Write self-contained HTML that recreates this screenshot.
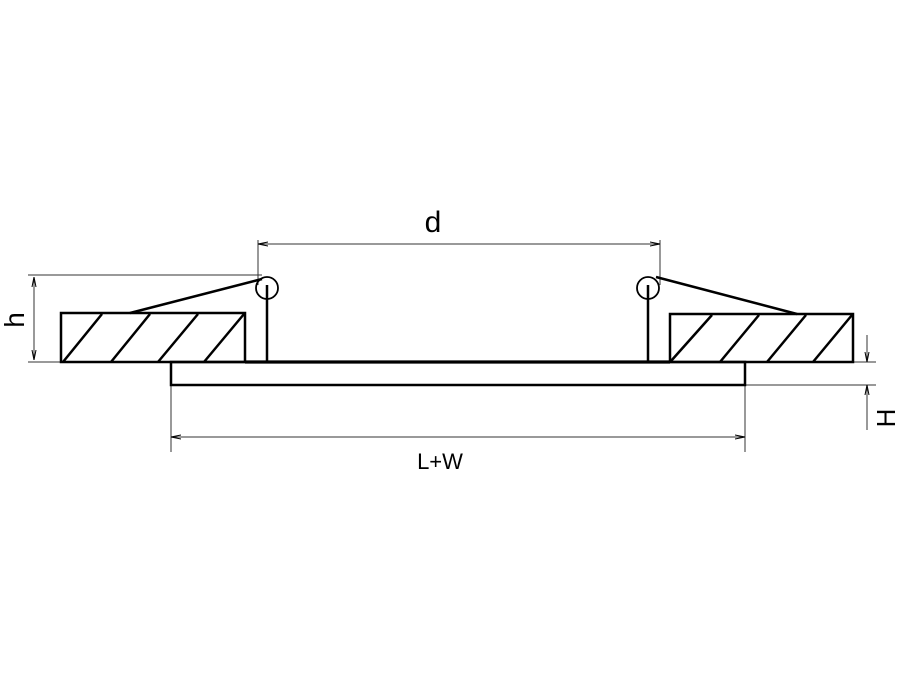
<!DOCTYPE html>
<html><head><style>html,body{margin:0;padding:0;background:#fff}text{font-family:"Liberation Sans",Arial,sans-serif}</style></head>
<body>
<svg width="900" height="675" xmlns="http://www.w3.org/2000/svg" style="display:block">
<defs>
<marker id="a" markerWidth="10" markerHeight="6" refX="10" refY="3" orient="auto-start-reverse" markerUnits="userSpaceOnUse"><path d="M0,1 L10,3 L0,5" fill="none" stroke="#000" stroke-width="1"/></marker>
</defs>
<g stroke="#000" fill="none">
<g stroke-width="1" stroke="#333">
<line x1="258" y1="240" x2="258" y2="285"/>
<line x1="660" y1="240" x2="660" y2="285"/>
<line x1="258" y1="244" x2="660" y2="244" marker-start="url(#a)" marker-end="url(#a)"/>
<line x1="28" y1="275" x2="262" y2="275"/>
<line x1="28" y1="362" x2="61" y2="362"/>
<line x1="34" y1="277" x2="34" y2="360" marker-start="url(#a)" marker-end="url(#a)"/>
<line x1="171" y1="384" x2="171" y2="452"/>
<line x1="745" y1="384" x2="745" y2="452"/>
<line x1="171" y1="437" x2="745" y2="437" marker-start="url(#a)" marker-end="url(#a)"/>
<line x1="853" y1="362" x2="876" y2="362"/>
<line x1="745" y1="385" x2="876" y2="385"/>
<line x1="867" y1="335" x2="867" y2="362" marker-end="url(#a)"/>
<line x1="867" y1="430" x2="867" y2="385" marker-end="url(#a)"/>
</g>
<g stroke-width="2.5">
<rect x="61" y="313" width="184" height="49"/>
<rect x="670" y="314" width="183" height="48"/>
<rect x="171" y="362" width="574" height="23"/>
<line x1="245" y1="362" x2="670" y2="362" stroke-width="3.2"/>
<line x1="63" y1="362" x2="102" y2="314"/>
<line x1="111" y1="362" x2="150" y2="314"/>
<line x1="158" y1="362" x2="198" y2="314"/>
<line x1="204" y1="362" x2="244" y2="314"/>
<line x1="671" y1="361" x2="712" y2="315"/>
<line x1="720" y1="362" x2="759" y2="315"/>
<line x1="767" y1="362" x2="806" y2="315"/>
<line x1="813" y1="362" x2="852" y2="315"/>
<circle cx="267" cy="288" r="11" stroke-width="1.8"/>
<circle cx="648" cy="288" r="11" stroke-width="1.8"/>
<line x1="267" y1="285" x2="267" y2="362"/>
<line x1="648" y1="285" x2="648" y2="362"/>
<line x1="262" y1="279" x2="130" y2="313"/>
<line x1="656" y1="277" x2="797" y2="314"/>
</g>
</g>
<g fill="#000">
<text x="433" y="232" font-size="30" text-anchor="middle">d</text>
<text x="440" y="469" font-size="22" text-anchor="middle">L+W</text>
<text transform="translate(24,320) rotate(-90)" font-size="28" text-anchor="middle">h</text>
<text transform="translate(895,418) rotate(-90)" font-size="26" text-anchor="middle">H</text>
</g>
</svg>
</body></html>
